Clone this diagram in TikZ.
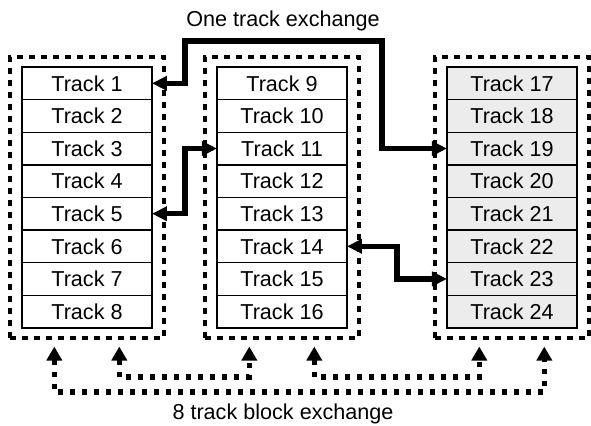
\documentclass[tikz,border=0pt]{standalone}
\usepackage{fontspec}
\setmainfont{Liberation Sans}
\usetikzlibrary{positioning,calc,fit,arrows.meta}

\begin{document}
\begin{tikzpicture}[x=0.5pt,y=-0.5pt,font=\fontsize{10.8pt}{13pt}\selectfont]
 \coordinate (origo) at (0,0);
 \useasboundingbox (origo) rectangle (591,425);

\tikzstyle{track}=[draw,line width=0.7pt,minimum width=65pt,minimum height=16.3pt,inner sep=0pt,outer sep=0pt]
\tikzstyle{block}=[draw,line width=1.7pt,dash pattern=on 3pt off 3pt,inner xsep=6pt,inner ysep=5pt]
\tikzstyle{swap}=[line width=2.7pt,{Triangle[length=7.5pt,width=7pt]}-{Triangle[length=7.5pt,width=7pt]}]
\tikzstyle{blockswap}=[line width=2.6pt,dash pattern=on 2.6pt off 3.4pt,{Triangle[length=7pt,width=7.5pt]}-{Triangle[length=7pt,width=7.5pt]}]

   %track columns
   \node (t1) [track,anchor=north west] at (22,67) {Track 1};
   \node (t9) [track,right=32.5pt of t1] {Track 9};
   \node (t17) [track,fill=gray!15,right=50pt of t9] {Track 17};
   \foreach \i [evaluate=\i as \j using int(\i-1)] in {2,...,8,10,11,...,16}
     \node (t\i) [track,below=0pt of t\j] {Track \i};
   \foreach \i [evaluate=\i as \j using int(\i-1)] in {18,...,24}
     \node (t\i) [track,fill=gray!15,below=0pt of t\j] {Track \i};

   %dashed blocks
   \node (blkL) [block,fit=(t1)(t8)] {};
   \node (blkM) [block,fit=(t9)(t16)] {};
   \node (blkR) [block,fit=(t17)(t24)] {};

   %one track exchange
   \coordinate (jogL) at (185,41);
   \coordinate (jogR) at (382,41);
   \draw[swap] (t1.east) -| (jogL) -- (jogR) |- (t19.west);
   \node (one_label) at (283,21) {One track exchange};

   \draw[swap] (t5.east) -- ++(33,0) |- (t11.west);
   \draw[swap] (t14.east) -- ++(50,0) |- (t23.west);

   %8 track block exchange
   \coordinate (inner) at (0,377);
   \coordinate (outer) at (0,392);
   \foreach \b/\n in {blkL/L,blkM/M,blkR/R} {
     \coordinate (\n a) at ([xshift=23pt,yshift=-3.5pt]\b.south west);
     \coordinate (\n b) at ([xshift=55.5pt,yshift=-3.5pt]\b.south west);
   }
   \draw[blockswap] (La) |- (Rb |- outer) -- (Rb);
   \draw[blockswap] (Lb) |- (Ma |- inner) -- (Ma);
   \draw[blockswap] (Mb) |- (Ra |- inner) -- (Ra);
   \node (block_label) at (283,414) {8 track block exchange};

\end{tikzpicture}
\end{document}
